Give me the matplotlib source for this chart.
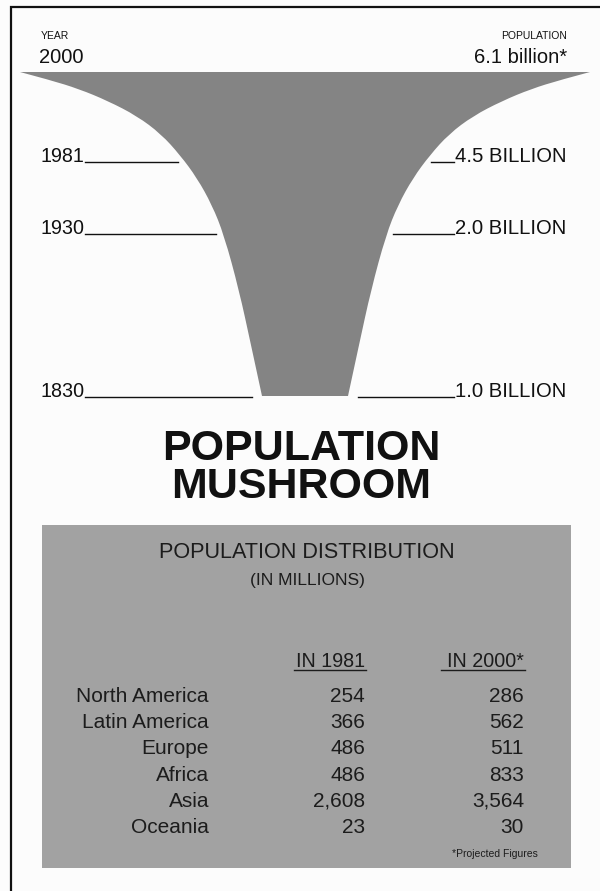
import matplotlib
matplotlib.use("Agg")
import matplotlib.pyplot as plt
from matplotlib.path import Path
from matplotlib.patches import PathPatch, Rectangle

plt.rcParams['font.family'] = ['Liberation Sans', 'DejaVu Sans']

# population growth milestones
years = [1830, 1930, 1981]
populations = ["1.0 BILLION", "2.0 BILLION", "4.5 BILLION"]
top_year = 2000
top_population = "6.1 billion*"

# table data (in millions)
regions = ["North America", "Latin America", "Europe", "Africa", "Asia", "Oceania"]
pop_1981 = [254, 366, 486, 486, 2608, 23]
pop_2000 = [286, 562, 511, 833, 3564, 30]

SHAPE = "#848484"
BOX = "#a2a2a2"
INK = "#111111"
BOX_INK = "#1c1c1c"

fig = plt.figure(figsize=(6, 8.91), dpi=100)
fig.patch.set_facecolor("#fcfcfc")
ax = fig.add_axes([0, 0, 1, 1])
ax.set_xlim(0, 600)
ax.set_ylim(891, 0)
ax.axis("off")

# frame (top and left only)
ax.plot([11, 11, 600], [891, 7, 7], color=INK, lw=1.6, solid_joinstyle="miter")

# mushroom outline: control polygon of the left edge, smoothed with quadratic
# b-spline segments and mirrored for the right edge
cx = 305
edge = [(262, 396), (251, 345), (239, 290), (224, 235), (212, 205), (197, 178),
        (180, 155), (161, 134), (137, 116), (108, 101), (79, 89), (50, 80), (20, 72)]


def smooth(points):
    verts = [points[0]]
    codes = [Path.LINETO]
    for i in range(1, len(points) - 2):
        mid = ((points[i][0] + points[i + 1][0]) / 2, (points[i][1] + points[i + 1][1]) / 2)
        verts += [points[i], mid]
        codes += [Path.CURVE3, Path.CURVE3]
    verts += [points[-2], points[-1]]
    codes += [Path.CURVE3, Path.CURVE3]
    return verts, codes


lv, lc = smooth(edge)
rv, rc = smooth([(2 * cx - x, y) for x, y in edge[::-1]])
verts = lv + rv + [lv[0]]
codes = [Path.MOVETO] + lc[1:] + [Path.LINETO] + rc[1:] + [Path.CLOSEPOLY]
ax.add_patch(PathPatch(Path(verts, codes), facecolor=SHAPE, edgecolor="none"))

# header labels
ax.text(41, 39, "YEAR", fontsize=7.5, color=INK, va="baseline")
ax.text(39, 63, str(top_year), fontsize=14.5, color=INK, va="baseline")
ax.text(567, 39, "POPULATION", fontsize=7.5, color=INK, va="baseline", ha="right")
ax.text(567, 63, top_population, fontsize=14.5, color=INK, va="baseline", ha="right")

# milestone labels with leader lines
base_y = [397, 234, 162]
left_end = [252, 216, 178]
right_start = [358, 393, 431]
for yr, pop, by, le, rs in zip(years, populations, base_y, left_end, right_start):
    ax.text(40, by, str(yr), fontsize=14.2, color=INK, va="baseline")
    ax.plot([85, le], [by, by], color=INK, lw=1)
    ax.plot([rs, 454], [by, by], color=INK, lw=1)
    ax.text(455, by, pop, fontsize=14.6, color=INK, va="baseline")

# title
ax.text(301, 498, "POPULATION\nMUSHROOM", fontsize=31, fontweight="bold", color=INK,
        ha="center", va="baseline", multialignment="center", linespacing=0.94)

# table box
ax.add_patch(Rectangle((42, 525), 529, 343, facecolor=BOX, edgecolor="none"))
ax.text(307, 558, "POPULATION DISTRIBUTION", fontsize=15.6, color=BOX_INK,
        ha="center", va="baseline")
ax.text(307, 585, "(IN MILLIONS)", fontsize=12.5, color=BOX_INK,
        ha="center", va="baseline")

ax.text(365, 667, "IN 1981", fontsize=14.2, color=BOX_INK, ha="right", va="baseline")
ax.plot([294, 366], [670, 670], color=BOX_INK, lw=1)
ax.text(524, 667, "IN 2000*", fontsize=14.2, color=BOX_INK, ha="right", va="baseline")
ax.plot([441, 525], [670, 670], color=BOX_INK, lw=1)

for i, (name, a, b) in enumerate(zip(regions, pop_1981, pop_2000)):
    y = 702 + i * 26.2
    ax.text(209, y, name, fontsize=15, color=BOX_INK, ha="right", va="baseline")
    ax.text(365, y, f"{a:,}", fontsize=15, color=BOX_INK, ha="right", va="baseline")
    ax.text(524, y, f"{b:,}", fontsize=15, color=BOX_INK, ha="right", va="baseline")

ax.text(538, 857, "*Projected Figures", fontsize=7.5, color=BOX_INK,
        ha="right", va="baseline")

fig.savefig("out.png", dpi=100, facecolor=fig.get_facecolor())
